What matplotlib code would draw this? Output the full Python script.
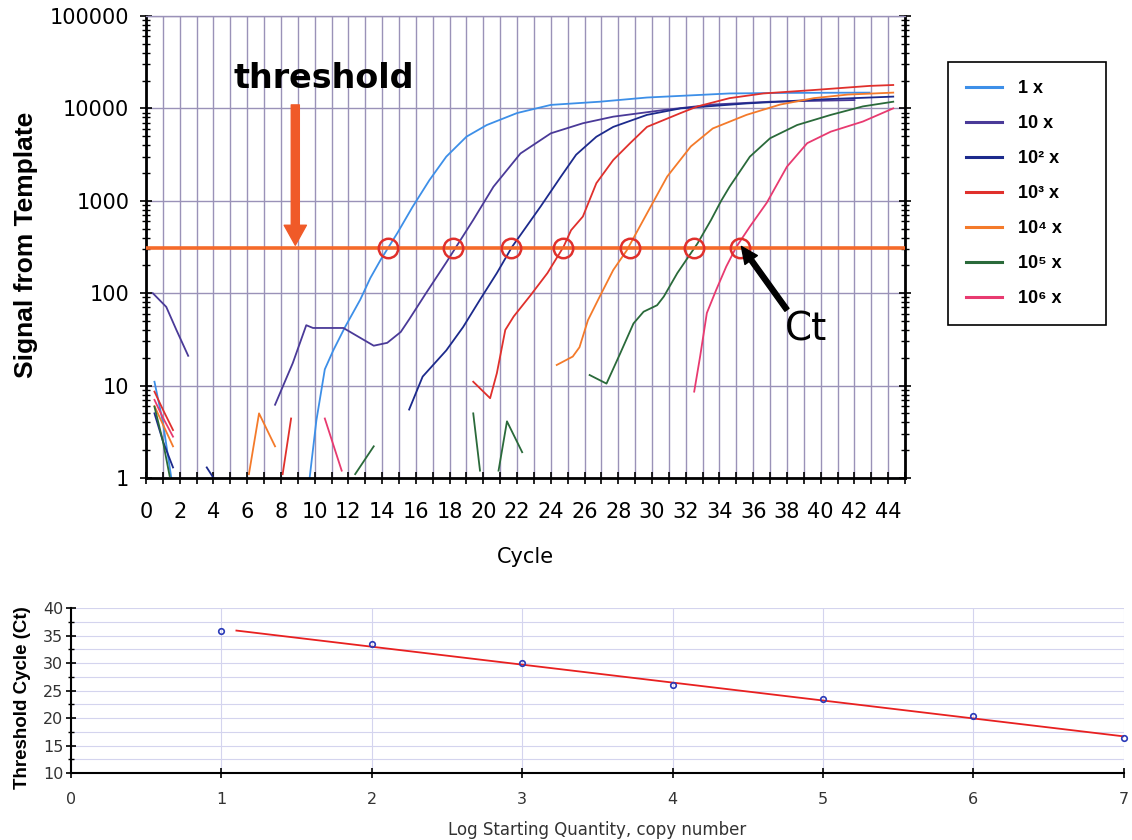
import numpy as np
import matplotlib
matplotlib.use("Agg")
import matplotlib.pyplot as plt
import matplotlib.ticker as ticker

nan = np.nan

# amplification curves (cycle, signal); nan splits the broken pieces
cyc_1x = [0.5, 1.0, 1.5, nan, 9.7, 10.1, 10.4, 10.6, 11.1, 11.8, 12.7, 13.3, 13.9, 14.9, 15.8,
          16.8, 17.8, 19.0, 20.2, 22.0, 24.0, 26.9, 29.7, 34.6, 38.0, 42.9]
sig_1x = [11, 4, 1, nan, 1, 4.2, 9, 15, 24, 43, 85, 146, 228, 447, 857,
          1670, 3000, 4940, 6600, 8900, 10900, 11800, 13100, 14500, 14700, 14800]

cyc_10x = [0.4, 1.2, 1.8, 2.5, nan, 7.65, 8.7, 9.5, 9.9, 11.7, 13.5, 14.3, 15.1, 15.6, 16.6,
           17.8, 19.4, 20.6, 22.2, 24.0, 25.9, 27.7, 30.7, 33.6, 37.0, 42.0]
sig_10x = [100, 71, 40, 21, nan, 6.2, 17.5, 45, 42, 42, 27, 29, 38, 52, 100,
           215, 620, 1420, 3250, 5370, 6900, 8130, 9600, 11000, 11800, 12300]

cyc_1e2 = [0.5, 1.0, 1.6, nan, 3.6, 4.0, nan, 15.6, 16.4, 17.8, 18.8, 19.8, 20.8, 21.7, 22.4,
           23.4, 24.6, 25.5, 26.7, 27.7, 29.7, 31.7, 35.6, 40.0, 44.3]
sig_1e2 = [5, 2.5, 1.3, nan, 1.3, 1, nan, 5.5, 12.5, 24, 43, 85, 165, 317, 480,
           870, 1830, 3150, 4930, 6300, 8500, 10000, 11300, 12500, 13400]

cyc_1e3 = [0.5, 1.0, 1.6, nan, 8.1, 8.6, nan, 19.4, 20.4, 20.8, 21.3, 21.8, 22.8, 23.8, 24.75,
           25.2, 25.9, 26.7, 27.7, 28.7, 29.7, 31.7, 32.7, 34.6, 36.6, 39.6, 42.9, 44.3]
sig_1e3 = [8.6, 5.5, 3.3, nan, 1.1, 4.4, nan, 11, 7.3, 13.6, 40, 56, 95, 165, 317,
           480, 675, 1550, 2760, 4200, 6300, 8900, 10500, 12900, 14500, 15800, 17500, 17900]

cyc_1e4 = [0.5, 1.0, 1.6, nan, 6.1, 6.7, 7.65, nan, 24.35, 25.3, 25.7, 26.2, 26.9, 27.7, 28.5,
           29.7, 30.9, 32.3, 33.6, 35.6, 37.6, 39.6, 41.6, 44.3]
sig_1e4 = [6, 3.8, 2.2, nan, 1.1, 5.0, 2.2, nan, 16.7, 20.6, 26, 51, 92, 178, 290,
           730, 1830, 3870, 6060, 8500, 11000, 12900, 14100, 14800]

cyc_1e5 = [0.5, 1.0, 1.4, nan, 12.4, 13.5, nan, 19.4, 19.8, nan, 20.9, 21.4, 22.3, nan,
           26.3, 27.3, 28.1, 28.9, 29.5, 30.3, 30.7, 31.5, 32.7, 33.5, 34.1, 34.6, 35.8,
           37.0, 38.6, 40.6, 42.5, 44.3]
sig_1e5 = [5.9, 2.5, 1.05, nan, 1.1, 2.2, nan, 5.0, 1.2, nan, 1.2, 4.1, 1.9, nan,
           13, 10.5, 22, 47, 63, 74, 92, 165, 346, 620, 1000, 1420, 3000,
           4750, 6600, 8500, 10500, 11800]

cyc_1e6 = [0.5, 1.0, 1.6, nan, 10.6, 11.6, nan, 32.5, 32.85, 33.25, 33.8, 34.4, 35.0, 35.8,
           36.8, 38.0, 39.2, 40.6, 42.5, 44.3]
sig_1e6 = [7, 4.5, 2.8, nan, 4.4, 1.2, nan, 8.6, 20.6, 61, 108, 194, 317, 525,
           950, 2340, 4200, 5600, 7200, 10000]

series_labels = ["1 x", "10 x", "10² x", "10³ x", "10⁴ x", "10⁵ x", "10⁶ x"]
series_colors = ["#3d8fe8", "#4a3a98", "#1c2a8c", "#e0302c", "#f47a2a", "#2a6a3a", "#e83a70"]

threshold = 310
ct_cycles = [14.35, 18.2, 21.65, 24.7, 28.7, 32.5, 35.2]

y_ticks = [1, 10, 100, 1000, 10000, 100000]
y_tick_labels = ["1", "10", "100", "1000", "10000", "100000"]

# standard curve
log_qty = [1, 2, 3, 4, 5, 6, 7]
ct_values = [35.8, 33.5, 30.0, 26.0, 23.4, 20.3, 16.3]


fig = plt.figure(figsize=(11.32, 8.40), dpi=100)
plt.rcParams["font.family"] = "DejaVu Sans"

# ---- amplification plot ----
ax = fig.add_axes([0.129, 0.431, 0.6705, 0.550])
curves = [(cyc_1x, sig_1x), (cyc_10x, sig_10x), (cyc_1e2, sig_1e2), (cyc_1e3, sig_1e3),
          (cyc_1e4, sig_1e4), (cyc_1e5, sig_1e5), (cyc_1e6, sig_1e6)]
handles = []
for (c, s), lab, col in zip(curves, series_labels, series_colors):
    h = ax.plot(c, s, color=col, lw=1.3, label=lab)[0]
    handles.append(h)

ax.set_yscale("log")
ax.set_xlim(0, 45)
ax.set_ylim(1, 100000)

ax.axhline(threshold, color="#f56a2a", lw=2.6, zorder=3)
ax.plot(ct_cycles, [threshold] * len(ct_cycles), "o", ms=14, mfc="none",
        mec="#e0302c", mew=1.8, zorder=4)

ax.grid(which="major", color="#9a92b8", lw=1.0)
ax.set_axisbelow(True)

ax.xaxis.set_major_locator(ticker.MultipleLocator(1))
ax.xaxis.set_major_formatter(ticker.FuncFormatter(
    lambda v, _: f"{int(round(v))}" if int(round(v)) % 2 == 0 else ""))
ax.set_yticks(y_ticks)
ax.set_yticklabels(y_tick_labels)
ax.yaxis.set_minor_locator(ticker.LogLocator(base=10, subs=np.arange(2, 10)))
ax.yaxis.set_minor_formatter(ticker.NullFormatter())

ax.tick_params(axis="x", which="major", direction="inout", length=8, width=1.2,
               labelsize=15, pad=13)
ax.tick_params(axis="y", which="major", direction="inout", length=8, width=1.2,
               labelsize=15, pad=8, right=True)
ax.tick_params(axis="y", which="minor", direction="inout", length=6, width=1.0, right=True)
for side in ["left", "bottom", "right"]:
    ax.spines[side].set_linewidth(2)
    ax.spines[side].set_color("black")
ax.spines["top"].set_color("#9a92b8")
ax.spines["top"].set_linewidth(1.0)

ax.set_xlabel("Cycle", fontsize=15, labelpad=18)
ax.set_ylabel("Signal from Template", fontsize=19, fontweight="bold",
              family="Liberation Sans")
ax.yaxis.set_label_coords(-0.142, 0.504)

ax.annotate("", xy=(8.85, 330), xytext=(8.85, 10900),
            arrowprops=dict(arrowstyle="simple,head_width=0.8,head_length=0.72,tail_width=0.29",
                            color="#f05a28", mutation_scale=20, shrinkA=0, shrinkB=0))
ax.text(5.16, 16600, "threshold", fontsize=24, fontweight="bold", ha="left", va="baseline")

ax.annotate("", xy=(35.3, 320), xytext=(38.0, 66),
            arrowprops=dict(arrowstyle="simple,head_width=0.55,head_length=0.6,tail_width=0.18",
                            color="black", mutation_scale=20, shrinkA=0, shrinkB=0), zorder=5)
ax.text(37.9, 31, "Ct", fontsize=28, ha="left", va="baseline")

leg = ax.legend(handles=handles, loc="upper left",
                bbox_to_anchor=(948 / 1132, 1 - 324 / 840, 158 / 1132, 262 / 840),
                bbox_transform=fig.transFigure, mode="expand", fancybox=False,
                edgecolor="black", framealpha=1,
                prop=dict(family="Liberation Sans", weight="bold", size=13),
                labelspacing=1.0, handlelength=2.0, handletextpad=0.85,
                borderpad=1.0, borderaxespad=0)
leg.get_frame().set_linewidth(1.2)
for ln in leg.get_lines():
    ln.set_linewidth(2.2)

# ---- standard curve ----
bx = fig.add_axes([0.0627, 0.0798, 0.930, 0.196])
slope, intercept = np.polyfit(log_qty, ct_values, 1)
fit_x = np.array([1.1, 7.0])
bx.plot(fit_x, slope * fit_x + intercept, color="#e82020", lw=1.3)
bx.plot(log_qty, ct_values, "o", ms=4, mfc="none", mec="#2a3ab8", mew=1.2, clip_on=False)
bx.set_xlim(0, 7)
bx.set_ylim(10, 40)
bx.xaxis.set_major_locator(ticker.MultipleLocator(1))
bx.yaxis.set_major_locator(ticker.MultipleLocator(5))
bx.yaxis.set_minor_locator(ticker.MultipleLocator(2.5))
bx.grid(which="both", axis="y", color="#d4d4ee", lw=0.8)
bx.grid(which="major", axis="x", color="#d4d4ee", lw=0.8)
bx.set_axisbelow(True)
bx.spines["top"].set_visible(False)
bx.spines["right"].set_visible(False)
bx.spines["left"].set_linewidth(1.5)
bx.spines["bottom"].set_linewidth(1.5)
bx.tick_params(which="major", direction="inout", length=7, width=1.2, labelsize=11.5,
               labelcolor="#333333")
bx.tick_params(axis="x", pad=10)
bx.tick_params(axis="y", pad=2)
bx.tick_params(which="minor", direction="inout", length=5, width=1.0)
bx.set_xlabel("Log Starting Quantity, copy number", fontsize=12, labelpad=10, color="#333333")
bx.set_ylabel("Threshold Cycle (Ct)", fontsize=13.5, fontweight="bold", family="Liberation Sans")
bx.yaxis.set_label_coords(-0.038, 0.46)

fig.savefig("out.png", dpi=100)
